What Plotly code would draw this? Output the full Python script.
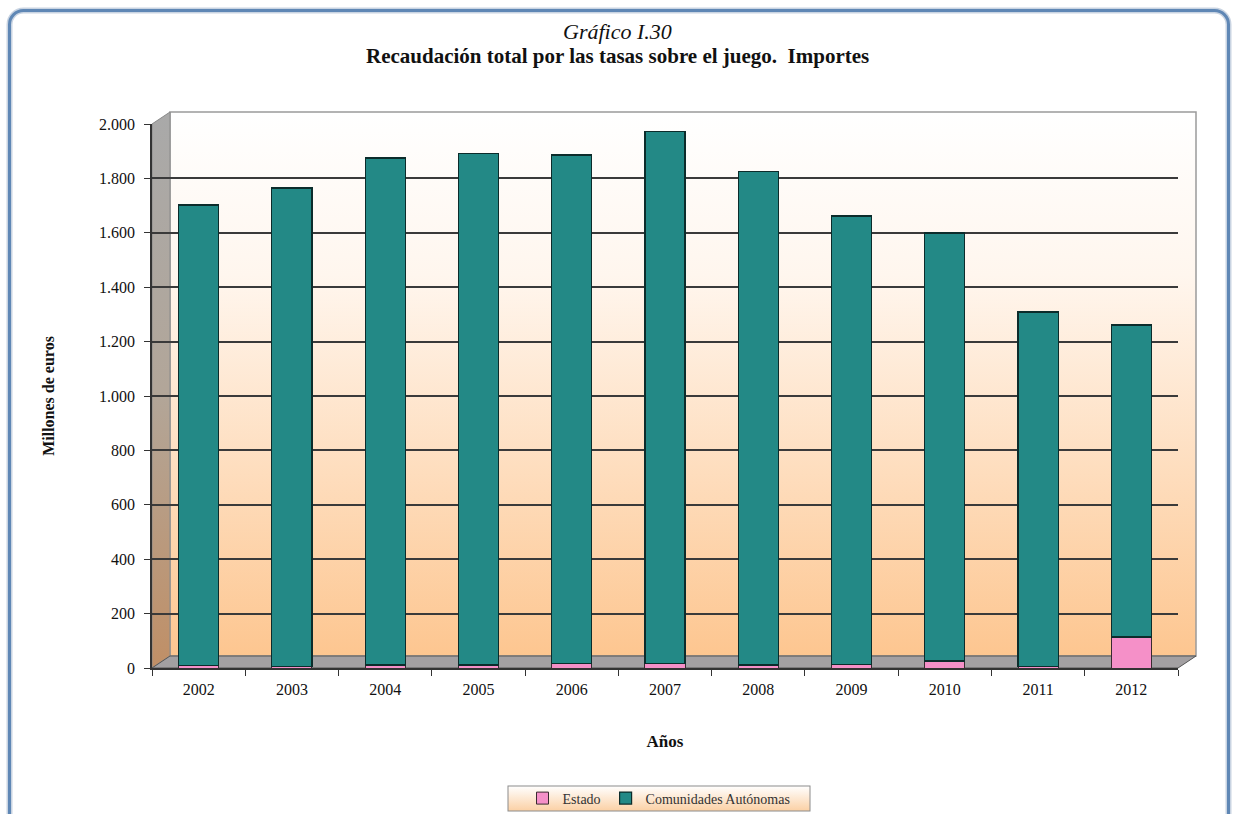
import base64
import plotly.graph_objects as go

years = ["2002", "2003", "2004", "2005", "2006", "2007", "2008", "2009", "2010", "2011", "2012"]
total = [1702, 1765, 1875, 1893, 1886, 1971, 1824, 1662, 1599, 1309, 1261]
estado = [9, 7, 11, 11, 16, 18, 11, 12, 26, 6, 114]
ccaa = [t - e for t, e in zip(total, estado)]
y_ticks = [0, 200, 400, 600, 800, 1000, 1200, 1400, 1600, 1800, 2000]

FONT = "Liberation Serif"
W, H = 1237, 814
L, R, T, B = 152, 59, 124, 146
pw, ph = W - L - R, H - T - B


def px(x):
    return (x - L) / pw


def py(y):
    return (H - B - y) / ph


# decorative background (frame, walls, floor, legend box) as one svg, in pixel units
DX, DY = 18, 12  # depth offset of the 3D look
x0, x1, yb, yt = L, W - R, H - B, T
svg = f'''<svg xmlns="http://www.w3.org/2000/svg" width="{W}" height="{H}" viewBox="0 0 {W} {H}" preserveAspectRatio="none">
<defs>
<linearGradient id="back" x1="0" y1="0" x2="0" y2="1">
<stop offset="0" stop-color="#ffffff"/><stop offset="0.3" stop-color="#fff6ee"/><stop offset="1" stop-color="#fdc690"/></linearGradient>
<linearGradient id="wall" x1="0" y1="0" x2="0" y2="1">
<stop offset="0" stop-color="#a9a9a9"/><stop offset="0.5" stop-color="#b2a699"/><stop offset="1" stop-color="#c08f66"/></linearGradient>
<linearGradient id="leg" x1="0" y1="0" x2="0" y2="1">
<stop offset="0" stop-color="#ffffff"/><stop offset="1" stop-color="#fbd0a4"/></linearGradient>
</defs>
<rect x="{x0+DX}" y="{yt-DY}" width="{x1-x0}" height="{yb-yt}" fill="url(#back)" stroke="#9a9a9a" stroke-width="1.5"/>
<polygon points="{x0},{yb} {x0+DX},{yb-DY} {x0+DX},{yt-DY} {x0},{yt}" fill="url(#wall)" stroke="#8a8a8a" stroke-width="1"/>
<polygon points="{x0},{yb} {x1},{yb} {x1+DX},{yb-DY} {x0+DX},{yb-DY}" fill="#a3a0a2" stroke="#555" stroke-width="1"/>
<rect x="508" y="786" width="302" height="25" fill="url(#leg)" stroke="#8c8c8c" stroke-width="1"/>
<rect x="9.5" y="10.5" width="1219" height="840" rx="14" ry="14" fill="none" stroke="#c9d4e2" stroke-width="6"/>
<rect x="9.5" y="10.5" width="1219" height="840" rx="14" ry="14" fill="none" stroke="#5f87b5" stroke-width="3"/>
</svg>'''
bg_src = "data:image/svg+xml;base64," + base64.b64encode(svg.encode()).decode()

fig = go.Figure()
fig.add_trace(go.Bar(x=years, y=estado, name="Estado",
                     marker=dict(color="#f590c8", line=dict(color="#3a2a30", width=1))))
fig.add_trace(go.Bar(x=years, y=ccaa, name="Comunidades Autónomas",
                     marker=dict(color="#238986", line=dict(color="#0c2c2b", width=1.2))))

fig.update_layout(
    width=W, height=H,
    margin=dict(l=L, r=R, t=T, b=B, autoexpand=False),
    barmode="stack",
    bargap=0.57,
    separators=",.",
    paper_bgcolor="white",
    plot_bgcolor="rgba(0,0,0,0)",
    font=dict(family=FONT, size=16, color="#111111"),
    showlegend=True,
    legend=dict(orientation="h", x=px(659), xanchor="center", y=py(798.5), yanchor="middle",
                bgcolor="rgba(0,0,0,0)", bordercolor="rgba(0,0,0,0)",
                font=dict(family=FONT, size=14, color="#333333"), traceorder="normal",
                itemwidth=30, tracegroupgap=0),
    images=[
        dict(source=bg_src, xref="paper", yref="paper", x=px(0), y=py(0), sizex=W / pw, sizey=H / ph,
             sizing="stretch", layer="below", xanchor="left", yanchor="top"),
    ],
    annotations=[
        dict(text="<i>Gráfico I.30</i>", xref="paper", yref="paper", x=px(617), y=py(31),
             showarrow=False, font=dict(family=FONT, size=22, color="#111111"), yanchor="middle"),
        dict(text="<b>Recaudación total por las tasas sobre el juego.  Importes</b>", xref="paper",
             yref="paper", x=px(617), y=py(56), showarrow=False,
             font=dict(family=FONT, size=21, color="#111111"), yanchor="middle"),
    ],
)

fig.update_xaxes(
    type="category", tickson="boundaries", ticks="outside", ticklen=6, tickcolor="#333333",
    showline=True, linecolor="#333333", linewidth=1.5, showgrid=False, automargin=False,
    ticklabelstandoff=6,
    tickfont=dict(family=FONT, size=16, color="#111111"),
    title=dict(text="<b>Años</b>", font=dict(family=FONT, size=17, color="#111111"), standoff=38),
)
fig.update_yaxes(
    range=[0, 2000], tickvals=y_ticks, tickformat=",.0f", ticks="outside", ticklen=6,
    tickcolor="#333333", showline=True, linecolor="#333333", linewidth=1.5, automargin=False,
    ticklabelstandoff=6,
    showgrid=True, gridcolor="#3a3a3a", gridwidth=1.5, zeroline=False,
    tickfont=dict(family=FONT, size=16, color="#111111"),
    title=dict(text="<b>Millones de euros</b>", font=dict(family=FONT, size=16, color="#111111"),
               standoff=40),
)

fig.write_html("out.html", config={"displayModeBar": False},
               post_script="document.body.style.margin='0';")
